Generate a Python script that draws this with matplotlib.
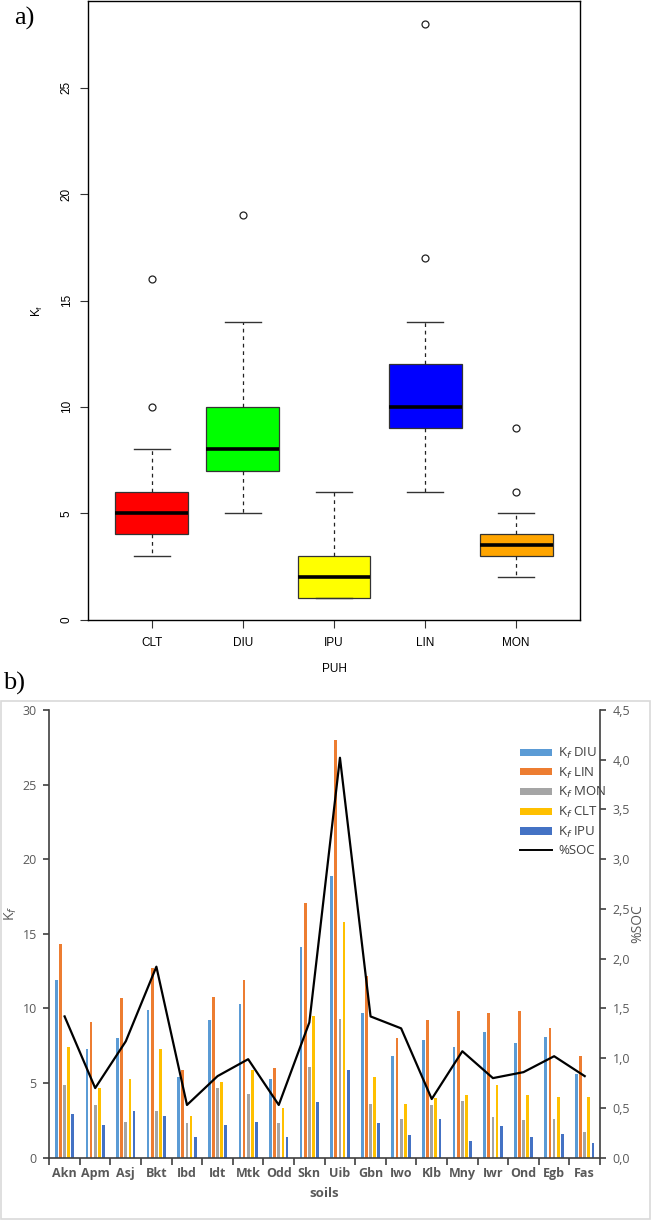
import matplotlib
matplotlib.use("Agg")
import matplotlib.pyplot as plt
from matplotlib.patches import Rectangle, Patch
from matplotlib.lines import Line2D
from matplotlib.ticker import FuncFormatter, FixedLocator
import numpy as np

# ---- panel a) : boxplot of Kf per PUH ----
puh = ["CLT", "DIU", "IPU", "LIN", "MON"]
box_colors = ["#FF0000", "#00FF00", "#FFFF00", "#0000FF", "#FFA500"]
whis_lo = [3, 5, 1, 6, 2]
q1 = [4, 7, 1, 9, 3]
med = [5, 8, 2, 10, 3.5]
q3 = [6, 10, 3, 12, 4]
whis_hi = [8, 14, 6, 14, 5]
outliers = [[10, 16], [19], [], [17, 28], [6, 9]]

# ---- panel b) : Kf per soil + %SOC ----
soils = ["Akn", "Apm", "Asj", "Bkt", "Ibd", "Idt", "Mtk", "Odd", "Skn",
         "Uib", "Gbn", "Iwo", "Klb", "Mny", "Iwr", "Ond", "Egb", "Fas"]
kf_diu = [11.9, 7.3, 8.0, 9.9, 5.4, 9.2, 10.3, 5.3, 14.1, 18.9, 9.7, 6.8, 7.9, 7.4, 8.4, 7.7, 8.1, 5.6]
kf_lin = [14.3, 9.1, 10.7, 12.7, 5.9, 10.8, 11.9, 6.0, 17.1, 28.0, 12.2, 8.0, 9.2, 9.8, 9.7, 9.8, 8.7, 6.8]
kf_mon = [4.9, 3.5, 2.4, 3.1, 2.3, 4.7, 4.3, 2.3, 6.1, 9.3, 3.6, 2.6, 3.5, 3.8, 2.7, 2.5, 2.6, 1.7]
kf_clt = [7.4, 4.7, 5.3, 7.3, 2.8, 5.1, 5.9, 3.3, 9.5, 15.8, 5.4, 3.6, 4.0, 4.2, 4.9, 4.2, 4.1, 4.1]
kf_ipu = [2.9, 2.2, 3.1, 2.8, 1.4, 2.2, 2.4, 1.4, 3.7, 5.9, 2.3, 1.5, 2.6, 1.1, 2.1, 1.4, 1.6, 1.0]
soc = [1.42, 0.70, 1.17, 1.92, 0.53, 0.82, 0.99, 0.53, 1.36, 4.02, 1.42, 1.30, 0.59, 1.07, 0.80, 0.86, 1.02, 0.82]

series_names = ["DIU", "LIN", "MON", "CLT", "IPU"]
series_vals = [kf_diu, kf_lin, kf_mon, kf_clt, kf_ipu]
series_colors = ["#5B9BD5", "#ED7D31", "#A5A5A5", "#FFC000", "#4472C4"]

W, H = 652, 1220
fig = plt.figure(figsize=(W / 100, H / 100), dpi=100)

def fx(px):
    return px / W

def fy(py):
    return 1 - py / H

# ---------------- a) ----------------
ax1 = fig.add_axes([fx(88), fy(620), fx(580) - fx(88), fy(1) - fy(620)])
stats = []
for i in range(len(puh)):
    stats.append(dict(med=med[i], q1=q1[i], q3=q3[i], whislo=whis_lo[i],
                      whishi=whis_hi[i], fliers=outliers[i], label=puh[i]))
bp = ax1.bxp(stats, positions=np.arange(1, 6), widths=0.8, capwidths=0.4,
             patch_artist=True,
             boxprops=dict(edgecolor="#333333", linewidth=0.9),
             whiskerprops=dict(color="#222222", linestyle=(0, (3, 3)), linewidth=0.9),
             capprops=dict(color="#333333", linewidth=1.0),
             medianprops=dict(color="black", linewidth=2.6),
             flierprops=dict(marker="o", markersize=5, markerfacecolor="none",
                             markeredgecolor="#222222", markeredgewidth=0.9))
for patch, c in zip(bp["boxes"], box_colors):
    patch.set_facecolor(c)
ax1.set_xlim(0.3, 5.7)
ax1.set_ylim(-0.02, 29.08)
ax1.set_yticks([0, 5, 10, 15, 20, 25])
ax1.set_yticklabels(["0", "5", "10", "15", "20", "25"], rotation=90, va="center",
                    fontsize=8.5, family="Liberation Sans")
ax1.set_xticks(np.arange(1, 6))
ax1.set_xticklabels(puh, fontsize=8.5, family="Liberation Sans")
ax1.tick_params(axis="both", direction="out", length=6, width=0.8, color="#333333",
                pad=5)
ax1.tick_params(axis="x", pad=6)
for s in ax1.spines.values():
    s.set_linewidth(1.0)
ax1.set_xlabel("PUH", fontsize=8.5, family="Liberation Sans")
ax1.xaxis.set_label_coords(0.5, -43 / 620)
ax1.set_ylabel(r"K$_{\mathregular{f}}$", fontsize=8.5, family="Liberation Sans")
ax1.yaxis.set_label_coords(-43 / 492, 0.5)
fig.text(fx(14), fy(18), "a)", fontsize=19, family="Liberation Serif",
         ha="left", va="center")

# ---------------- b) ----------------
fig.patches.append(Rectangle((fx(1), fy(1218.5)), fx(649), fy(701) - fy(1218.5),
                             transform=fig.transFigure, fill=False,
                             edgecolor="#D9D9D9", linewidth=1.2))
fig.text(fx(3), fy(683), "b)", fontsize=19, family="Liberation Serif",
         ha="left", va="center")

ax2 = fig.add_axes([fx(49.3), fy(1157.7), fx(600) - fx(49.3), fy(710) - fy(1157.7)])
x = np.arange(len(soils))
bw = 0.09
step = 0.135
for k, (name, vals, col) in enumerate(zip(series_names, series_vals, series_colors)):
    ax2.bar(x + (k - 2) * step, vals, width=bw, color=col, label=r"K$_f$ " + name)
ax2.set_xlim(-0.5, len(soils) - 0.5)
ax2.set_ylim(0, 30)
ax2.set_yticks(np.arange(0, 31, 5))
ax2.set_xticks(x)
ax2.set_xticklabels(soils, fontsize=9, fontweight="bold", color="#595959",
                    family="Open Sans")
ax2.xaxis.set_minor_locator(FixedLocator(np.arange(-0.5, len(soils), 1.0)))
ax2.tick_params(axis="x", which="major", length=0, pad=7)
ax2.tick_params(axis="x", which="minor", length=5, direction="out", width=1.2,
                color="#404040")
ax2.tick_params(axis="y", direction="out", length=4, width=1.2, color="#404040",
                labelsize=9, labelcolor="#595959", pad=5)
for lab in ax2.get_yticklabels():
    lab.set_family("Open Sans")
ax2.spines["top"].set_visible(False)
ax2.spines["right"].set_visible(False)
for s in ("left", "bottom"):
    ax2.spines[s].set_color("#404040")
    ax2.spines[s].set_linewidth(1.2)
ax2.set_xlabel("soils", fontsize=9.5, fontweight="bold", color="#595959",
               family="Open Sans")
ax2.xaxis.set_label_coords(0.5, -29 / 447.7)
ax2.set_ylabel(r"K$_f$", fontsize=10, color="#595959", family="Open Sans")
ax2.yaxis.set_label_coords(-30 / 550.7, 0.545)

ax3 = ax2.twinx()
ax3.plot(x, soc, color="black", linewidth=1.6, label="%SOC")
ax3.set_ylim(0, 4.5)
ax3.set_yticks(np.arange(0, 4.51, 0.5))
ax3.yaxis.set_major_formatter(FuncFormatter(lambda v, p: f"{v:.1f}".replace(".", ",")))
ax3.tick_params(axis="y", direction="out", length=4, width=1.2, color="#404040",
                labelsize=9, labelcolor="#595959", pad=5)
for lab in ax3.get_yticklabels():
    lab.set_family("Open Sans")
for s in ("top", "left", "bottom"):
    ax3.spines[s].set_visible(False)
ax3.spines["right"].set_color("#404040")
ax3.spines["right"].set_linewidth(1.2)
ax3.set_ylabel("%SOC", fontsize=10, color="#595959", family="Open Sans", rotation=90)
ax3.yaxis.set_label_coords(1 + 30 / 550.7, 0.523)

handles = [Patch(facecolor=c, edgecolor="none") for c in series_colors]
handles.append(Line2D([0], [0], color="black", linewidth=1.4))
labels = [r"K$_f$ " + n for n in series_names] + ["%SOC"]
leg = ax3.legend(handles, labels, loc="upper left", bbox_to_anchor=(0.855, 0.92),
                 frameon=False, fontsize=9.5, handlelength=2.4, handleheight=0.45,
                 handletextpad=0.5, labelspacing=0.35, borderpad=0, borderaxespad=0,
                 prop=dict(family="Open Sans", size=9.5))
for t in leg.get_texts():
    t.set_color("#404040")

fig.savefig("out.png", dpi=100)
